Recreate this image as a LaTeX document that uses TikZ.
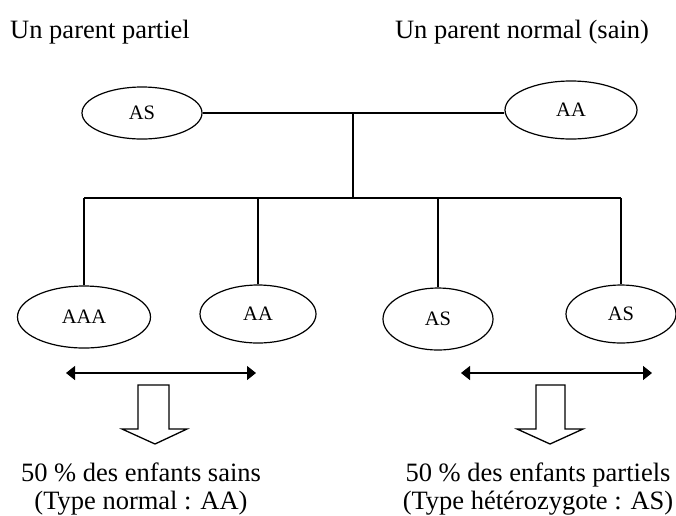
\documentclass[tikz,border=0pt]{standalone}
\usepackage{fontspec}
\setmainfont{Liberation Serif}
\usetikzlibrary{shapes.geometric,arrows.meta}
\begin{document}
\begin{tikzpicture}[x=1pt,y=-1pt,
  title/.style={font=\fontsize{26.5}{30}\selectfont, inner sep=0pt, anchor=base},
  foot/.style={font=\fontsize{26.5}{28}\selectfont, inner sep=0pt, align=center},
  oval/.style={draw, ellipse, line width=1.2pt, inner sep=0pt, font=\fontsize{20.5}{22}\selectfont},
  link/.style={line width=1.3pt},
  bar/.style={line width=2.2pt},
  dbl/.style={line width=1.3pt, {Triangle[length=9pt,width=14pt]}-{Triangle[length=9pt,width=14pt]}},
  hollow/.style={draw, line width=1.3pt, fill=white, line join=miter}]
\useasboundingbox (0,0) rectangle (676,515);
% titles
\node[title] (t1) at (100,38) {Un parent partiel};
\node[title] (t2) at (522,38) {Un parent normal (sain)};
% parents
\node[oval, minimum width=120pt, minimum height=52pt] (p1) at (142,113) {AS};
\node[oval, minimum width=132pt, minimum height=58pt] (p2) at (571,110) {AA};
\draw[link] (p1.east) -- (p1.east -| p2.west) coordinate (pj);
\coordinate (mid) at (353,112);
\coordinate (midb) at (353,198);
\draw[bar] (mid) -- (midb);
% children
\node[oval, minimum width=133pt, minimum height=62pt] (c1) at (84,317) {AAA};
\node[oval, minimum width=116pt, minimum height=58pt] (c2) at (258,314) {AA};
\node[oval, minimum width=110pt, minimum height=62pt] (c3) at (438,319) {AS};
\node[oval, minimum width=110pt, minimum height=58pt] (c4) at (621,314) {AS};
\coordinate (bl) at (84,198);
\coordinate (br) at (621,198);
\draw[bar] (bl) -- (br);
\draw[link] (c1.north) -- (c1.north |- bl);
\draw[link] (c2.north) -- (c2.north |- bl);
\draw[link] (c3.north) -- (c3.north |- bl);
\draw[link] (c4.north) -- (c4.north |- bl);
% double arrows
\coordinate (a1) at (66,373);
\coordinate (a2) at (256,373);
\coordinate (a3) at (461,373);
\coordinate (a4) at (652,373);
\draw[dbl] (a1) -- (a2);
\draw[dbl] (a3) -- (a4);
% block arrows
\draw[hollow] (138,385) -- (169,385) -- (169,429) -- (187,429) -- (155,444) -- (122,429) -- (138,429) -- cycle;
\draw[hollow] (536,385) -- (565,385) -- (565,429) -- (583,429) -- (550,444) -- (517,429) -- (536,429) -- cycle;
% footers
\node[foot] (f1) at (141,489) {50 \% des enfants sains\\(Type normal : AA)};
\node[foot] (f2) at (538,489) {50 \% des enfants partiels\\(Type hétérozygote : AS)};
\end{tikzpicture}
\end{document}
